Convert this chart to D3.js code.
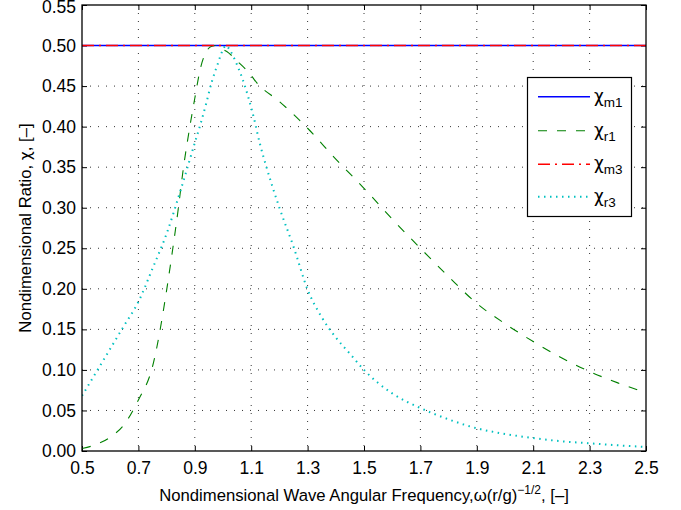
<!DOCTYPE html>
<html><head><meta charset="utf-8">
<script src="https://cdn.jsdelivr.net/npm/d3@7"></script>
<style>body{margin:0;background:#fff}svg{display:block;font-family:"Liberation Sans",Arial,sans-serif}</style>
</head><body><svg id="c" width="681" height="510"></svg>
<script>
const xTicks = [0.5,0.7,0.9,1.1,1.3,1.5,1.7,1.9,2.1,2.3,2.5];
const yTicks = [0,0.05,0.10,0.15,0.20,0.25,0.30,0.35,0.40,0.45,0.50,0.55];
const mX = [0.5, 2.5];
const chiM1 = [0.5, 0.5];
const chiM3 = [0.5, 0.5];
const r1X = [0.5,0.55,0.6,0.65,0.7,0.75,0.8,0.82,0.84,0.86,0.88,0.9,0.92,0.94,0.96,0.975,0.99,1.02,1.05,1.08,1.1,1.12,1.2,1.3,1.4,1.5,1.6,1.7,1.8,1.9,2.0,2.1,2.2,2.3,2.4,2.5];
const chiR1 = [0.003,0.008,0.017,0.033,0.063,0.104,0.198,0.245,0.295,0.35,0.395,0.435,0.472,0.492,0.499,0.5,0.497,0.491,0.481,0.471,0.463,0.454,0.431,0.398,0.36,0.324,0.286,0.25,0.215,0.182,0.157,0.135,0.115,0.098,0.084,0.072];
const r3X = [0.5,0.55,0.6,0.65,0.7,0.75,0.8,0.85,0.9,0.92,0.94,0.96,0.98,1.0,1.01,1.025,1.05,1.07,1.09,1.11,1.13,1.15,1.2,1.25,1.3,1.35,1.4,1.45,1.5,1.6,1.7,1.8,1.9,2.0,2.1,2.2,2.3,2.4,2.5];
const chiR3 = [0.068,0.097,0.126,0.155,0.184,0.225,0.268,0.322,0.38,0.403,0.428,0.455,0.476,0.495,0.5,0.494,0.476,0.458,0.436,0.41,0.38,0.355,0.3,0.252,0.199,0.165,0.14,0.12,0.1,0.071,0.053,0.039,0.028,0.021,0.016,0.012,0.0095,0.007,0.005];
const legendLabels = [["χ","m1"],["χ","r1"],["χ","m3"],["χ","r3"]];

const L=82,T=5,R=646,B=451;
const svg=d3.select("#c");
const x=d3.scaleLinear().domain([0.5,2.5]).range([L,R]);
const y=d3.scaleLinear().domain([0,0.55]).range([B,T]);

// grid
const g=svg.append("g");
g.selectAll(".vg").data(xTicks.slice(1,-1)).enter().append("line")
 .attr("x1",d=>x(d)).attr("x2",d=>x(d)).attr("y1",T).attr("y2",B)
 .attr("stroke","#000").attr("stroke-width",0.8).attr("stroke-dasharray","1,7");
g.selectAll(".hg").data(yTicks.slice(1,-1)).enter().append("line")
 .attr("y1",d=>y(d)).attr("y2",d=>y(d)).attr("x1",L).attr("x2",R)
 .attr("stroke","#000").attr("stroke-width",0.8).attr("stroke-dasharray","1,7");

// axes (ticks inward)
const fmtY=d3.format(".2f"), fmtX=d3.format(".1f");
const ax=svg.append("g").attr("transform",`translate(0,${B})`)
 .call(d3.axisBottom(x).tickValues(xTicks).tickFormat(fmtX).tickSizeInner(-5).tickSizeOuter(0).tickPadding(11));
const ay=svg.append("g").attr("transform",`translate(${L},0)`)
 .call(d3.axisLeft(y).tickValues(yTicks).tickFormat(fmtY).tickSizeInner(-5).tickSizeOuter(0).tickPadding(6));
const at=svg.append("g").attr("transform",`translate(0,${T})`)
 .call(d3.axisTop(x).tickValues(xTicks).tickFormat("").tickSizeInner(-5).tickSizeOuter(0));
const ar=svg.append("g").attr("transform",`translate(${R},0)`)
 .call(d3.axisRight(y).tickValues(yTicks).tickFormat("").tickSizeInner(-5).tickSizeOuter(0));
[ax,ay,at,ar].forEach(a=>{a.select(".domain").remove();a.selectAll("line").attr("stroke","#000");
 a.selectAll("text").attr("font-size",17.5).attr("fill","#000").attr("font-family","Liberation Sans, Arial, sans-serif");});
// keep the topmost label inside the page
ay.selectAll(".tick").filter(d=>d===0.55).select("text").attr("dy","0.42em");

// lines
const lineXY=(xs,ys)=>d3.line().x((d,i)=>x(xs[i])).y(d=>y(d)).curve(d3.curveMonotoneX)(ys);
const series=[
 {xs:mX,ys:chiM1,c:"#0000ff",dash:null,w:1.5},
 {xs:r1X,ys:chiR1,c:"#008000",dash:"9,10",w:1.1},
 {xs:mX,ys:chiM3,c:"#ff0000",dash:"12,5,2,5",w:1.5},
 {xs:r3X,ys:chiR3,c:"#00c0c0",dash:"1.5,4.5",w:2}
];
svg.append("clipPath").attr("id","pc").append("rect").attr("x",L).attr("y",T-2).attr("width",R-L).attr("height",B-T+2);
series.forEach(s=>{
 svg.append("path").attr("d",lineXY(s.xs,s.ys)).attr("fill","none").attr("stroke",s.c)
  .attr("stroke-width",s.w).attr("stroke-dasharray",s.dash).attr("clip-path","url(#pc)");
});

// frame
svg.append("rect").attr("x",L).attr("y",T).attr("width",R-L).attr("height",B-T)
 .attr("fill","none").attr("stroke","#000").attr("stroke-width",1.3);

// legend
const lg=svg.append("g");
lg.append("rect").attr("x",527.5).attr("y",77.5).attr("width",104).attr("height",139)
 .attr("fill","#fff").attr("stroke","#000").attr("stroke-width",1.2);
const ly=[96.7,130.7,164.3,196.7];
series.forEach((s,i)=>{
 lg.append("line").attr("x1",538).attr("x2",590).attr("y1",ly[i]).attr("y2",ly[i])
  .attr("stroke",s.c).attr("stroke-width",s.w).attr("stroke-dasharray",s.dash);
 const t=lg.append("text").attr("x",594).attr("y",ly[i]+5).attr("font-size",18).attr("fill","#000");
 t.append("tspan").attr("font-family","DejaVu Sans, sans-serif").attr("font-size",17).text(legendLabels[i][0]);
 t.append("tspan").attr("dy",5).attr("font-size",13.5).text(legendLabels[i][1]);
});

// axis labels
const xl=svg.append("text").attr("x",(L+R)/2).attr("y",501).attr("text-anchor","middle").attr("font-size",16.7).attr("fill","#000");
xl.append("tspan").text("Nondimensional Wave Angular Frequency,ω(r/g)");
xl.append("tspan").attr("dy",-7).attr("font-size",12).text("−1/2");
xl.append("tspan").attr("dy",7).text(", [–]");
const yl=svg.append("text").attr("transform",`translate(31,${(T+B)/2}) rotate(-90)`).attr("text-anchor","middle")
 .attr("font-size",16.7).attr("fill","#000");
yl.append("tspan").text("Nondimensional Ratio, ");
yl.append("tspan").attr("font-family","DejaVu Sans, sans-serif").attr("font-size",15.5).text("χ");
yl.append("tspan").text(", [–]");
</script></body></html>
